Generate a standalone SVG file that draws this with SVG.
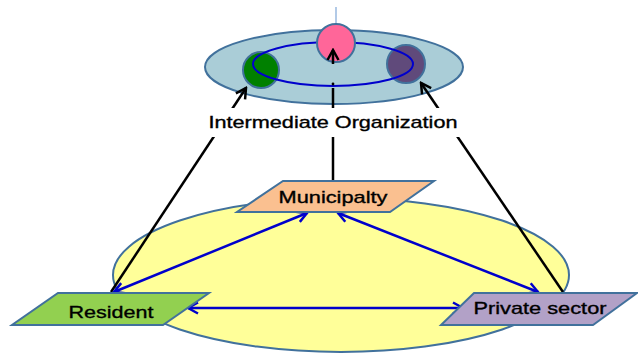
<svg xmlns="http://www.w3.org/2000/svg" width="638" height="354" viewBox="0 0 638 354">
<defs>
<style>
.shape{stroke:#41719C;stroke-width:2}
.lbl{font-family:"Liberation Sans",Arial,sans-serif;font-size:17px;fill:#000;stroke:#000;stroke-width:0.35;text-anchor:middle}
.blk{stroke:#000;stroke-width:2.5;fill:none}
.blu{stroke:#0000CC;stroke-width:2.5;fill:none}
</style>
<marker id="ab" viewBox="0 0 14 14" refX="12" refY="7" markerWidth="14" markerHeight="14" markerUnits="userSpaceOnUse" orient="auto-start-reverse">
<path d="M2,1.5 L12,7 L2,12.5" fill="none" stroke="#0000CC" stroke-width="2.5"/>
</marker>
<marker id="ak" viewBox="0 0 14 14" refX="12" refY="7" markerWidth="14" markerHeight="14" markerUnits="userSpaceOnUse" orient="auto">
<path d="M2,1.5 L12,7 L2,12.5" fill="none" stroke="#000" stroke-width="2.5"/>
</marker>
</defs>
<rect width="638" height="354" fill="#fff"/>
<g id="community">
<ellipse cx="341" cy="275" rx="228" ry="77" fill="#FFFF99" class="shape"/>
</g>
<g id="intermediate-organization">
<ellipse cx="334" cy="67" rx="129" ry="37" fill="#AACDD7" class="shape"/>
<circle cx="261" cy="70" r="18" fill="#008000" class="shape"/>
<circle cx="406" cy="64" r="19" fill="#604A7B" class="shape"/>
<ellipse cx="333" cy="64" rx="80" ry="22" fill="none" stroke="#0000CC" stroke-width="2"/>
<line x1="336" y1="7" x2="336" y2="24" stroke="#7FA7D7" stroke-width="1.2"/>
<circle cx="336" cy="43" r="19" fill="#FF6699" class="shape"/>
</g>
<g id="connectors">
<line x1="111" y1="292" x2="246" y2="88" class="blk" marker-end="url(#ak)"/>
<line x1="563" y1="292" x2="421" y2="83" class="blk" marker-end="url(#ak)"/>
<line x1="333" y1="181" x2="333" y2="88" class="blk"/>
<circle cx="333" cy="84" r="1.4" fill="#000"/>
<line x1="333" y1="64" x2="333" y2="50" class="blk" marker-end="url(#ak)"/>
<line x1="114" y1="292" x2="307" y2="213" class="blu" marker-start="url(#ab)" marker-end="url(#ab)"/>
<line x1="338" y1="213" x2="538" y2="292" class="blu" marker-start="url(#ab)" marker-end="url(#ab)"/>
<line x1="188" y1="308" x2="463" y2="308" class="blu" marker-start="url(#ab)" marker-end="url(#ab)"/>
</g>
<g id="label-intermediate">
<rect x="204" y="108" width="258" height="29" fill="#fff"/>
<text x="333" y="128" class="lbl" font-size="18" textLength="249" lengthAdjust="spacingAndGlyphs">Intermediate Organization</text>
</g>
<g id="municipality">
<polygon points="283,181 434,181 390,212 237,212" fill="#FAC090" class="shape"/>
<text x="333" y="203" class="lbl" textLength="109" lengthAdjust="spacingAndGlyphs">Municipalty</text>
</g>
<g id="resident">
<polygon points="58,293 209,293 163,325 12,325" fill="#92D050" class="shape"/>
<text x="111" y="318" class="lbl" textLength="85" lengthAdjust="spacingAndGlyphs">Resident</text>
</g>
<g id="private-sector">
<polygon points="474,293 637,293 593,325 441,325" fill="#B2A1C7" class="shape"/>
<text x="540" y="314" class="lbl" textLength="133" lengthAdjust="spacingAndGlyphs">Private sector</text>
</g>
</svg>
